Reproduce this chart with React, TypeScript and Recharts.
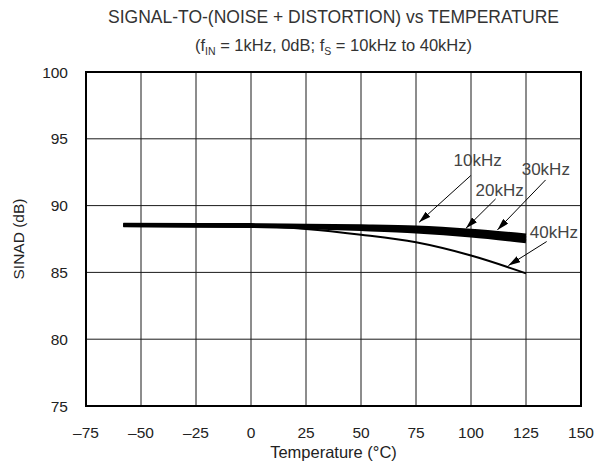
import React from "react";
import {
  LineChart,
  Line,
  XAxis,
  YAxis,
  CartesianGrid,
  ReferenceArea,
  ReferenceLine,
  ReferenceDot,
} from "recharts";

// temperature (°C) and SINAD (dB)
const temps = [-58, 0, 25, 50, 75, 100, 125];
const sinad10k = [88.56, 88.54, 88.5, 88.45, 88.36, 88.12, 87.76];
const sinad20k = [88.54, 88.5, 88.45, 88.36, 88.22, 87.94, 87.55];
const sinad30k = [88.52, 88.47, 88.38, 88.24, 88.06, 87.76, 87.34];
const sinad40k = [88.52, 88.47, 88.25, 87.82, 87.25, 86.26, 84.93];

const xTicks = [-75, -50, -25, 0, 25, 50, 75, 100, 125, 150];
const yTicks = [75, 80, 85, 90, 95, 100];

// callouts: label position and arrow from/to, in data units
const noteLabels = ["10kHz", "20kHz", "30kHz", "40kHz"];
const noteX = [103, 113, 134, 137.7];
const noteY = [93.4, 91.1, 92.7, 88.0];
const arrowFromX = [99.9, 111.2, 133.9, 134.4];
const arrowFromY = [92.25, 90.5, 91.92, 87.31];
const arrowToX = [76.4, 97.7, 112, 117];
const arrowToY = [88.75, 88.3, 88.18, 85.51];

const FONT = "'Liberation Sans', Arial, Helvetica, sans-serif";

const data = temps.map((t, i) => ({
  t,
  f10: sinad10k[i],
  f20: sinad20k[i],
  f30: sinad30k[i],
  f40: sinad40k[i],
}));

const dash = (v: number) => String(v).replace("-", "\u2013");

export default function App() {
  return (
    <div
      style={{
        position: "absolute",
        left: 0,
        top: 0,
        width: 595,
        height: 476,
        background: "#fff",
        fontFamily: FONT,
      }}
    >
      <svg width={0} height={0} style={{ position: "absolute" }}>
        <defs>
          <marker
            id="arrowHead"
            markerUnits="userSpaceOnUse"
            markerWidth={12}
            markerHeight={7}
            refX={12}
            refY={3.5}
            orient="auto"
          >
            <path d="M0,0 L12,3.5 L0,7 z" fill="#000" />
          </marker>
        </defs>
      </svg>

      <div
        style={{
          position: "absolute",
          left: 86,
          width: 495,
          top: 7,
          textAlign: "center",
          color: "#333",
          fontSize: 17.5,
          lineHeight: "20px",
        }}
      >
        SIGNAL-TO-(NOISE + DISTORTION) vs TEMPERATURE
      </div>
      <div
        style={{
          position: "absolute",
          left: 86,
          width: 495,
          top: 35,
          textAlign: "center",
          color: "#333",
          fontSize: 16.5,
          lineHeight: "20px",
        }}
      >
        (f<sub style={{ fontSize: 10.5, lineHeight: 0 }}>IN</sub> = 1kHz, 0dB; f
        <sub style={{ fontSize: 10.5, lineHeight: 0 }}>S</sub> = 10kHz to 40kHz)
      </div>

      <LineChart
        width={595}
        height={476}
        data={data}
        margin={{ top: 72, right: 14, bottom: 10, left: 0 }}
        style={{ position: "absolute", left: 0, top: 0, fontFamily: FONT }}
      >
        <CartesianGrid stroke="#1a1a1a" strokeWidth={1} />
        <XAxis
          dataKey="t"
          type="number"
          domain={[-75, 150]}
          ticks={xTicks}
          tickFormatter={dash}
          axisLine={false}
          tickLine={false}
          tickMargin={15}
          height={60}
          tick={{ fontSize: 15.5, fill: "#222" }}
          label={{
            content: (p: any) => (
              <text
                x={p.viewBox.x + p.viewBox.width / 2}
                y={p.viewBox.y + 52}
                textAnchor="middle"
                fontSize={16.5}
                fill="#222"
              >
                Temperature (°C)
              </text>
            ),
          }}
        />
        <YAxis
          type="number"
          domain={[75, 100]}
          ticks={yTicks}
          axisLine={false}
          tickLine={false}
          tickMargin={12}
          width={86}
          tick={{ fontSize: 15.5, fill: "#222" }}
          label={{
            content: (p: any) => {
              const cx = p.viewBox.x + 18;
              const cy = p.viewBox.y + p.viewBox.height / 2;
              return (
                <text
                  x={cx}
                  y={cy}
                  transform={`rotate(-90 ${cx} ${cy})`}
                  textAnchor="middle"
                  dominantBaseline="central"
                  fontSize={15.5}
                  fill="#222"
                >
                  SINAD (dB)
                </text>
              );
            },
          }}
        />
        <ReferenceArea
          x1={-75}
          x2={150}
          y1={75}
          y2={100}
          fill="none"
          fillOpacity={0}
          stroke="#000"
          strokeWidth={2}
        />
        <Line
          dataKey="f40"
          type="monotone"
          stroke="#000"
          strokeWidth={2}
          dot={false}
          isAnimationActive={false}
        />
        <Line
          dataKey="f30"
          type="monotone"
          stroke="#000"
          strokeWidth={4}
          dot={false}
          isAnimationActive={false}
        />
        <Line
          dataKey="f20"
          type="monotone"
          stroke="#000"
          strokeWidth={4}
          dot={false}
          isAnimationActive={false}
        />
        <Line
          dataKey="f10"
          type="monotone"
          stroke="#000"
          strokeWidth={4}
          dot={false}
          isAnimationActive={false}
        />
        {noteLabels.map((n, i) => (
          <ReferenceLine
            key={"a" + n}
            segment={[
              { x: arrowFromX[i], y: arrowFromY[i] },
              { x: arrowToX[i], y: arrowToY[i] },
            ]}
            stroke="#000"
            strokeWidth={1}
            markerEnd="url(#arrowHead)"
            ifOverflow="visible"
          />
        ))}
        {noteLabels.map((n, i) => (
          <ReferenceDot
            key={"l" + n}
            x={noteX[i]}
            y={noteY[i]}
            ifOverflow="visible"
            shape={(p: any) => (
              <text
                x={p.cx}
                y={p.cy}
                textAnchor="middle"
                dominantBaseline="central"
                fontSize={17}
                fill="#444"
              >
                {n}
              </text>
            )}
          />
        ))}
      </LineChart>
    </div>
  );
}
